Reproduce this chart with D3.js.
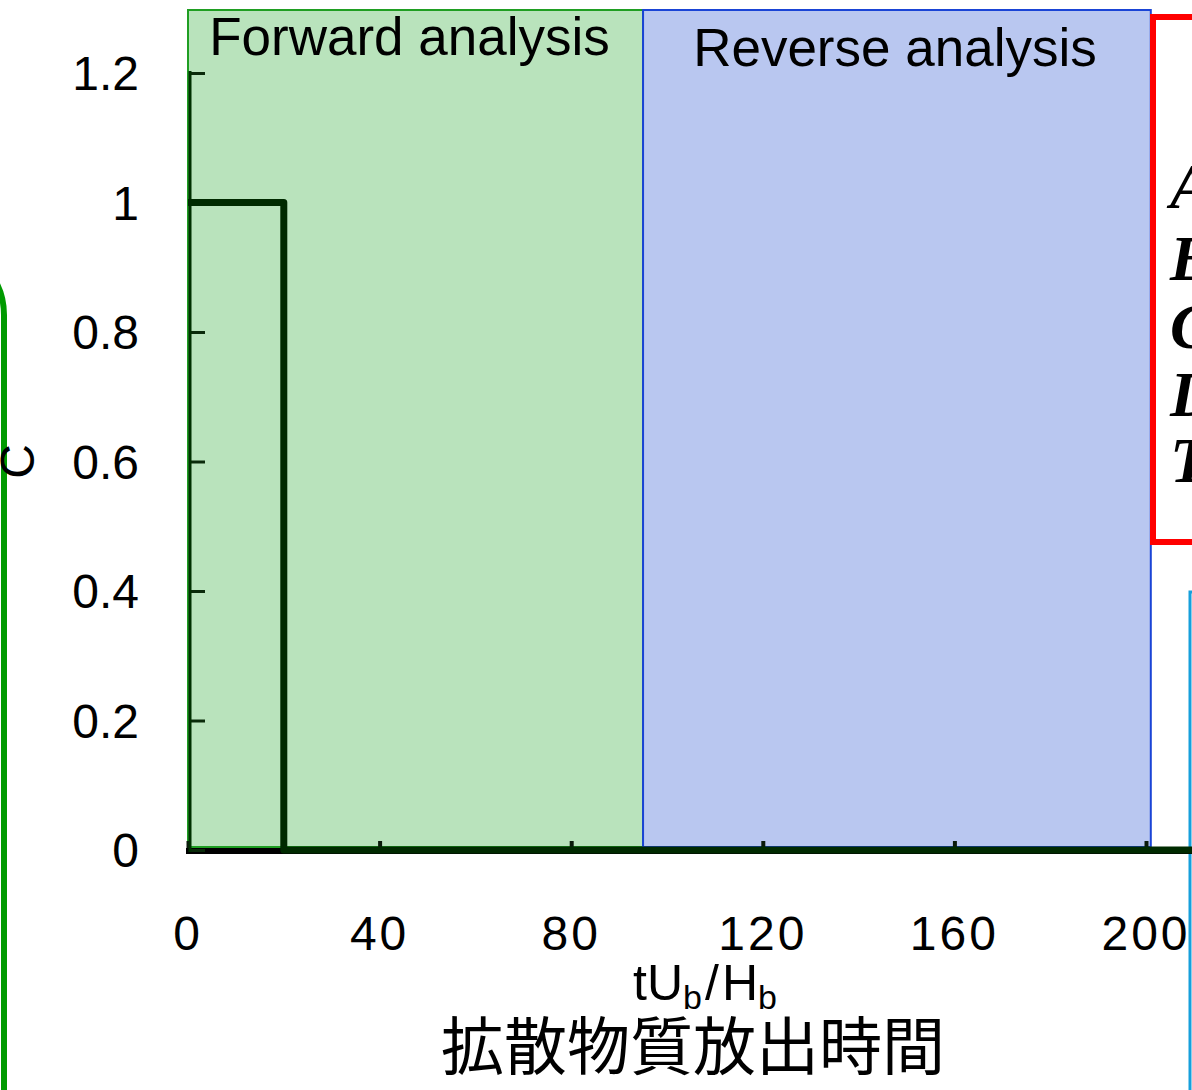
<!DOCTYPE html>
<html>
<head>
<meta charset="utf-8">
<script src="https://cdn.jsdelivr.net/npm/d3@7/dist/d3.min.js"></script>
<style>
  html, body { margin: 0; padding: 0; background: #fff; overflow: hidden; }
  svg { display: block; }
</style>
</head>
<body>
<script>
// Release concentration C against non-dimensional time tU_b/H_b
const releaseTime = [0, 20, 20, 210];
const concentration = [1, 1, 0, 0];

// Analysis windows shaded behind the curve
const windowNames = ["Forward analysis", "Reverse analysis"];
const windowStart = [0, 95];
const windowEnd = [95, 201];

const xTicks = [0, 40, 80, 120, 160, 200];
const yTicks = [0, 0.2, 0.4, 0.6, 0.8, 1, 1.2];
const yTickLabels = ["0", "0.2", "0.4", "0.6", "0.8", "1", "1.2"];

// Symbols listed in the side panel
const panelSymbols = ["A", "B", "C", "D", "T"];

const W = 1192, H = 1090;
const svg = d3.select("body").append("svg").attr("width", W).attr("height", H);

const x = d3.scaleLinear().domain([0, 200]).range([188, 1146]);
const y = d3.scaleLinear().domain([0, 1.2]).range([850, 73]);

const sans = "'Liberation Sans', Arial, sans-serif";

// Neighbouring panel outlines
svg.append("rect")
  .attr("x", -300).attr("y", 245).attr("width", 304).attr("height", 1000)
  .attr("rx", 70).attr("ry", 70)
  .attr("fill", "none").attr("stroke", "#009a00").attr("stroke-width", 6);

svg.append("rect")
  .attr("x", 1190).attr("y", 592).attr("width", 300).attr("height", 600)
  .attr("fill", "none").attr("stroke", "#16a0dc").attr("stroke-width", 3);

// Shaded windows
const winFill = ["#b9e3bc", "#b9c7f0"];
const winStroke = ["#1f9e22", "#1a44d6"];
const winTextY = [55, 66];
const winG = svg.append("g");
windowNames.forEach((name, i) => {
  winG.append("rect")
    .attr("x", x(windowStart[i])).attr("y", 10)
    .attr("width", x(windowEnd[i]) - x(windowStart[i]))
    .attr("height", 847 - 10)
    .attr("fill", winFill[i]).attr("stroke", winStroke[i]).attr("stroke-width", 2);
  winG.append("text")
    .attr("x", (x(windowStart[i]) + x(windowEnd[i])) / 2 + (i === 0 ? -6 : -2))
    .attr("y", winTextY[i])
    .attr("text-anchor", "middle")
    .attr("font-family", sans).attr("font-size", 53)
    .attr("fill", "#000")
    .text(name);
});

// Side panel with symbol list
svg.append("rect")
  .attr("x", 1153).attr("y", 17).attr("width", 200).attr("height", 525)
  .attr("fill", "#fff").attr("stroke", "#ff0000").attr("stroke-width", 6);
const symY = [208, 280, 348, 416, 482];
panelSymbols.forEach((s, i) => {
  svg.append("text")
    .attr("x", 1170).attr("y", symY[i])
    .attr("font-family", "'Liberation Serif', 'DejaVu Serif', serif")
    .attr("font-style", "italic").attr("font-weight", "bold")
    .attr("font-size", 64).attr("fill", "#000")
    .text(s);
});

// Axes
const xAxis = d3.axisBottom(x).tickValues(xTicks).tickSize(-9).tickFormat("");
const gx = svg.append("g").attr("transform", `translate(0,${y(0)})`).call(xAxis);
gx.select(".domain").remove();
gx.selectAll(".tick line").attr("stroke", "#0a1a0a").attr("stroke-width", 4);
svg.append("line")
  .attr("x1", 186).attr("x2", W + 5)
  .attr("y1", y(0) + 1).attr("y2", y(0) + 1)
  .attr("stroke", "#000").attr("stroke-width", 6);

const yAxis = d3.axisLeft(y).tickValues(yTicks).tickSize(-15).tickFormat("");
const gy = svg.append("g").attr("transform", `translate(190,0)`).call(yAxis);
gy.select(".domain").remove();
gy.selectAll(".tick line").attr("stroke", "#0a2a0a").attr("stroke-width", 3);
svg.append("line")
  .attr("x1", 190).attr("x2", 190)
  .attr("y1", y(1.2) - 2).attr("y2", y(0) + 2)
  .attr("stroke", "#003000").attr("stroke-width", 3);

// Tick labels
svg.append("g").selectAll("text").data(xTicks).join("text")
  .attr("x", d => x(d)).attr("y", 950)
  .attr("text-anchor", "middle")
  .attr("font-family", sans).attr("font-size", 48).attr("letter-spacing", 3)
  .attr("fill", "#000")
  .text(d => d);

svg.append("g").selectAll("text").data(yTicks).join("text")
  .attr("x", 139).attr("y", d => y(d) + 17)
  .attr("text-anchor", "end")
  .attr("font-family", sans).attr("font-size", 48)
  .attr("fill", "#000")
  .text((d, i) => yTickLabels[i]);

// Axis titles
svg.append("text")
  .attr("transform", `translate(34,${y(0.6)}) rotate(-90)`)
  .attr("text-anchor", "middle")
  .attr("font-family", sans).attr("font-size", 48).attr("fill", "#000")
  .text("C");

const xt = svg.append("text")
  .attr("x", 705).attr("y", 1000)
  .attr("text-anchor", "middle")
  .attr("font-family", sans).attr("font-size", 50).attr("fill", "#000");
xt.append("tspan").text("tU");
xt.append("tspan").attr("font-size", 34).attr("dy", 9).text("b");
xt.append("tspan").attr("dy", -9).attr("dx", 3).text("/");
xt.append("tspan").attr("dx", 3).text("H");
xt.append("tspan").attr("font-size", 34).attr("dy", 9).text("b");

svg.append("text")
  .attr("x", 693).attr("y", 1069)
  .attr("text-anchor", "middle")
  .attr("font-family", "'Noto Sans CJK JP', sans-serif").attr("font-size", 63)
  .attr("fill", "#000")
  .text("拡散物質放出時間");

// Release curve
const pts = releaseTime.map((t, i) => [t, concentration[i]]);
svg.append("path")
  .datum(pts)
  .attr("d", d3.line().x(d => x(d[0])).y(d => y(d[1])))
  .attr("fill", "none")
  .attr("stroke", "#002a00").attr("stroke-width", 7)
  .attr("stroke-linejoin", "round");
</script>
</body>
</html>
